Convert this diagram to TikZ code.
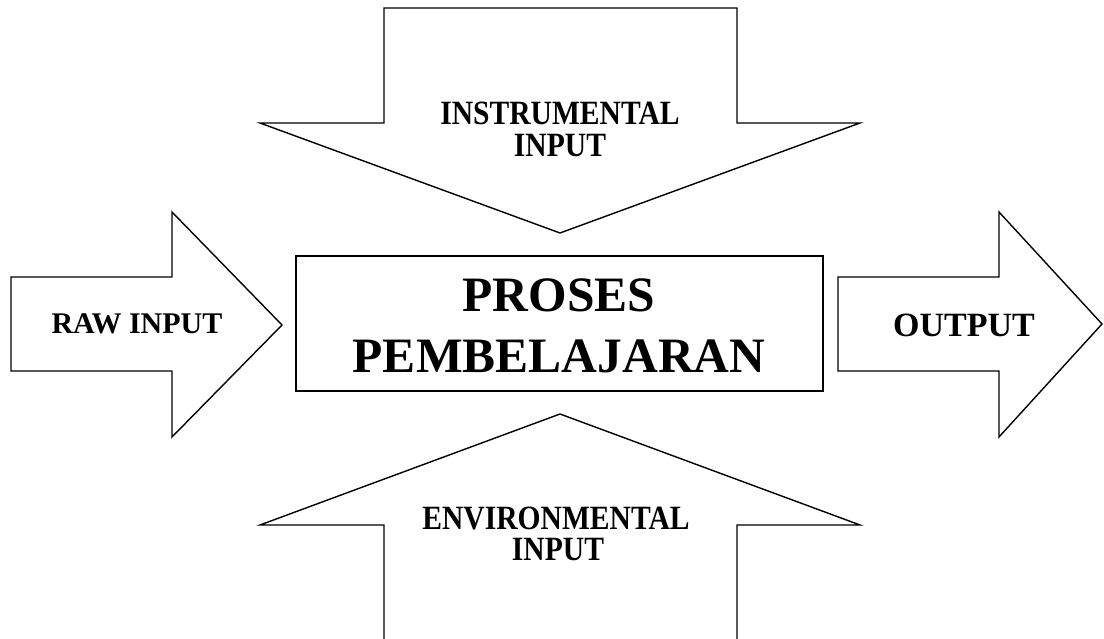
\documentclass[tikz,border=0pt]{standalone}
\usepackage{fontspec}
\setmainfont{Liberation Serif}
\newfontfamily\narrowfont[FakeStretch=0.87]{Liberation Serif}
\usetikzlibrary{positioning}

\begin{document}
\begin{tikzpicture}[x=1pt,y=-1pt,% pixel grid, y going down
				every node/.style={
					inner sep=0pt,		% text sits right on its anchor
					anchor=base,
					text depth=0pt
				},
				blockarrow/.style={draw=black,line width=1.4pt,line join=miter,fill=white},
				label/.style={font=\narrowfont\bfseries\fontsize{34}{34}\selectfont,text height=23pt},
				biglabel/.style={font=\bfseries\fontsize{49.5}{50}\selectfont,text height=33pt},
				sidelabel/.style={font=\bfseries\fontsize{30}{30}\selectfont,text height=20pt}
			]
			\useasboundingbox (0,0) rectangle (1104,639);
			% block arrows
			\draw[blockarrow] (384,8) -- (737,8) -- (737,123) -- (860,123) -- (560,233) -- (260,123) -- (384,123) -- cycle;
			\draw[blockarrow] (384,640) -- (384,525) -- (260,525) -- (560,414) -- (860,525) -- (737,525) -- (737,640);
			\draw[blockarrow] (11,277) -- (172,277) -- (172,212) -- (282,325) -- (172,437) -- (172,371) -- (11,371) -- cycle;
			\draw[blockarrow] (838,277) -- (999,277) -- (999,212) -- (1102,324) -- (999,437) -- (999,371) -- (838,371) -- cycle;
			% process box
			\draw[blockarrow] (296,256) rectangle (823,391);
			% labels
			\node[label] (instrA) at (560,125) {INSTRUMENTAL};
			\node[label] (instrB) at (560,157) {INPUT};
			\node[label] (envA) at (556,529) {ENVIRONMENTAL};
			\node[label] (envB) at (558,560) {INPUT};
			\node[sidelabel] (raw) at (137,334) {RAW INPUT};
			\node[sidelabel,font=\bfseries\fontsize{34}{34}\selectfont,text height=23pt] (out) at (964,337) {OUTPUT};
			\node[biglabel] (procA) at (559,312) {PROSES};
			\node[biglabel] (procB) at (559,372) {PEMBELAJARAN};
		\end{tikzpicture}
\end{document}
